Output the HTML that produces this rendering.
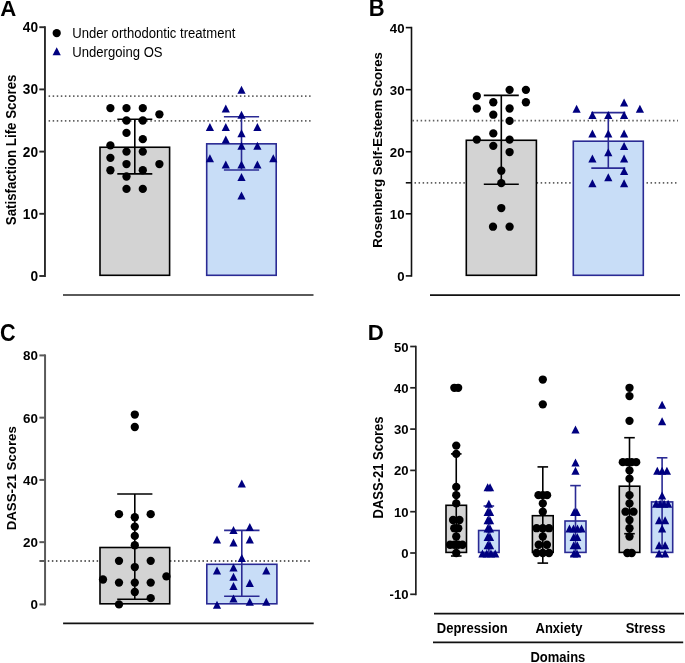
<!DOCTYPE html>
<html><head><meta charset="utf-8"><style>
html,body{margin:0;padding:0;background:#fff;}
svg{display:block;}
text{font-family:"Liberation Sans", sans-serif;fill:#000;}
body{-webkit-font-smoothing:antialiased;}
</style></head><body>
<svg width="685" height="663" viewBox="0 0 685 663" style="will-change:transform">
<rect width="685" height="663" fill="#fff"/>
<text transform="translate(0.30,15.90) scale(1,1.0)" font-size="22.2" font-weight="bold" text-anchor="start" >A</text>
<line x1="44.95" y1="26.25" x2="44.95" y2="276.95" stroke="#2a2a2a" stroke-width="1.9" />
<line x1="39.30" y1="276.00" x2="44.95" y2="276.00" stroke="#2a2a2a" stroke-width="1.9" />
<text transform="translate(38.00,281.00) scale(1,1.05)" font-size="13.7" font-weight="bold" text-anchor="end" >0</text>
<line x1="39.30" y1="213.80" x2="44.95" y2="213.80" stroke="#2a2a2a" stroke-width="1.9" />
<text transform="translate(38.00,218.80) scale(1,1.05)" font-size="13.7" font-weight="bold" text-anchor="end" >10</text>
<line x1="39.30" y1="151.60" x2="44.95" y2="151.60" stroke="#2a2a2a" stroke-width="1.9" />
<text transform="translate(38.00,156.60) scale(1,1.05)" font-size="13.7" font-weight="bold" text-anchor="end" >20</text>
<line x1="39.30" y1="89.40" x2="44.95" y2="89.40" stroke="#2a2a2a" stroke-width="1.9" />
<text transform="translate(38.00,94.40) scale(1,1.05)" font-size="13.7" font-weight="bold" text-anchor="end" >30</text>
<line x1="39.30" y1="27.20" x2="44.95" y2="27.20" stroke="#2a2a2a" stroke-width="1.9" />
<text transform="translate(38.00,32.20) scale(1,1.05)" font-size="13.7" font-weight="bold" text-anchor="end" >40</text>
<text transform="translate(16.00,149.85) rotate(-90) scale(1,1.1)" x="0" y="0" font-size="13.3" font-weight="bold" text-anchor="middle">Satisfaction Life Scores</text>
<circle cx="56.70" cy="33.10" r="4.15" fill="#000"/>
<text transform="translate(72.30,38.30) scale(1,1.1)" font-size="13.1" font-weight="normal" text-anchor="start" >Under orthodontic treatment</text>
<path d="M56.70 47.30L60.80 55.30L52.60 55.30Z" fill="#000080"/>
<text transform="translate(72.30,57.00) scale(1,1.1)" font-size="13.1" font-weight="normal" text-anchor="start" >Undergoing OS</text>
<line x1="48.60" y1="96.07" x2="311.00" y2="96.07" stroke="#000" stroke-width="1.8" stroke-dasharray="1.5 2.57" opacity="0.62"/>
<line x1="48.60" y1="120.95" x2="311.00" y2="120.95" stroke="#000" stroke-width="1.8" stroke-dasharray="1.5 2.57" opacity="0.62"/>
<rect x="100.00" y="147.25" width="69.60" height="128.05" fill="#d3d3d3" stroke="#000" stroke-width="1.6"/>
<rect x="206.70" y="143.83" width="69.50" height="131.47" fill="#c8ddf7" stroke="#2a2a94" stroke-width="1.6"/>
<line x1="63.00" y1="295.00" x2="313.50" y2="295.00" stroke="#5a5a5a" stroke-width="1.8" />
<line x1="134.80" y1="119.20" x2="134.80" y2="173.90" stroke="#000" stroke-width="1.6" />
<line x1="117.30" y1="119.20" x2="152.30" y2="119.20" stroke="#000" stroke-width="1.6" />
<line x1="117.30" y1="173.90" x2="152.30" y2="173.90" stroke="#000" stroke-width="1.6" />
<circle cx="110.40" cy="108.06" r="4.15" fill="#000"/>
<circle cx="126.50" cy="108.06" r="4.15" fill="#000"/>
<circle cx="142.80" cy="108.06" r="4.15" fill="#000"/>
<circle cx="159.40" cy="114.28" r="4.15" fill="#000"/>
<circle cx="126.50" cy="120.50" r="4.15" fill="#000"/>
<circle cx="142.80" cy="120.50" r="4.15" fill="#000"/>
<circle cx="126.50" cy="132.94" r="4.15" fill="#000"/>
<circle cx="142.80" cy="139.16" r="4.15" fill="#000"/>
<circle cx="110.40" cy="145.38" r="4.15" fill="#000"/>
<circle cx="126.50" cy="151.60" r="4.15" fill="#000"/>
<circle cx="142.80" cy="151.60" r="4.15" fill="#000"/>
<circle cx="110.40" cy="157.82" r="4.15" fill="#000"/>
<circle cx="126.50" cy="164.04" r="4.15" fill="#000"/>
<circle cx="159.40" cy="164.04" r="4.15" fill="#000"/>
<circle cx="110.40" cy="170.26" r="4.15" fill="#000"/>
<circle cx="142.80" cy="170.26" r="4.15" fill="#000"/>
<circle cx="126.50" cy="176.48" r="4.15" fill="#000"/>
<circle cx="126.50" cy="188.92" r="4.15" fill="#000"/>
<circle cx="142.80" cy="188.92" r="4.15" fill="#000"/>
<line x1="241.50" y1="116.80" x2="241.50" y2="170.00" stroke="#2a2a94" stroke-width="1.6" />
<line x1="223.90" y1="116.80" x2="259.10" y2="116.80" stroke="#2a2a94" stroke-width="1.6" />
<line x1="223.90" y1="170.00" x2="259.10" y2="170.00" stroke="#2a2a94" stroke-width="1.6" />
<path d="M241.50 85.80L245.60 93.80L237.40 93.80Z" fill="#000080"/>
<path d="M225.80 104.46L229.90 112.46L221.70 112.46Z" fill="#000080"/>
<path d="M241.50 110.68L245.60 118.68L237.40 118.68Z" fill="#000080"/>
<path d="M209.90 123.12L214.00 131.12L205.80 131.12Z" fill="#000080"/>
<path d="M225.80 123.12L229.90 131.12L221.70 131.12Z" fill="#000080"/>
<path d="M257.40 123.12L261.50 131.12L253.30 131.12Z" fill="#000080"/>
<path d="M241.50 129.34L245.60 137.34L237.40 137.34Z" fill="#000080"/>
<path d="M225.80 135.56L229.90 143.56L221.70 143.56Z" fill="#000080"/>
<path d="M241.50 141.78L245.60 149.78L237.40 149.78Z" fill="#000080"/>
<path d="M257.40 141.78L261.50 149.78L253.30 149.78Z" fill="#000080"/>
<path d="M209.90 154.22L214.00 162.22L205.80 162.22Z" fill="#000080"/>
<path d="M273.30 154.22L277.40 162.22L269.20 162.22Z" fill="#000080"/>
<path d="M225.80 160.44L229.90 168.44L221.70 168.44Z" fill="#000080"/>
<path d="M241.50 160.44L245.60 168.44L237.40 168.44Z" fill="#000080"/>
<path d="M257.40 160.44L261.50 168.44L253.30 168.44Z" fill="#000080"/>
<path d="M241.50 172.88L245.60 180.88L237.40 180.88Z" fill="#000080"/>
<path d="M241.50 191.54L245.60 199.54L237.40 199.54Z" fill="#000080"/>
<text transform="translate(368.80,15.90) scale(1,1.05)" font-size="22.0" font-weight="bold" text-anchor="start" >B</text>
<line x1="411.50" y1="26.80" x2="411.50" y2="276.70" stroke="#111" stroke-width="1.6" />
<line x1="405.80" y1="275.90" x2="411.50" y2="275.90" stroke="#111" stroke-width="1.6" />
<text transform="translate(404.50,281.00) scale(1,1.0)" font-size="13.2" font-weight="bold" text-anchor="end" >0</text>
<line x1="405.80" y1="213.82" x2="411.50" y2="213.82" stroke="#111" stroke-width="1.6" />
<text transform="translate(404.50,218.92) scale(1,1.0)" font-size="13.2" font-weight="bold" text-anchor="end" >10</text>
<line x1="405.80" y1="151.75" x2="411.50" y2="151.75" stroke="#111" stroke-width="1.6" />
<text transform="translate(404.50,156.85) scale(1,1.0)" font-size="13.2" font-weight="bold" text-anchor="end" >20</text>
<line x1="405.80" y1="89.67" x2="411.50" y2="89.67" stroke="#111" stroke-width="1.6" />
<text transform="translate(404.50,94.77) scale(1,1.0)" font-size="13.2" font-weight="bold" text-anchor="end" >30</text>
<line x1="405.80" y1="27.60" x2="411.50" y2="27.60" stroke="#111" stroke-width="1.6" />
<text transform="translate(404.50,32.70) scale(1,1.0)" font-size="13.2" font-weight="bold" text-anchor="end" >40</text>
<line x1="405.80" y1="182.79" x2="411.50" y2="182.79" stroke="#111" stroke-width="1.6" />
<text transform="translate(382.40,150.00) rotate(-90) scale(1,1.0)" x="0" y="0" font-size="13.2" font-weight="bold" text-anchor="middle">Rosenberg Self-Esteem Scores</text>
<line x1="412.50" y1="120.71" x2="678.00" y2="120.71" stroke="#000" stroke-width="1.8" stroke-dasharray="1.5 2.57" opacity="0.62"/>
<line x1="414.50" y1="182.79" x2="678.00" y2="182.79" stroke="#000" stroke-width="1.8" stroke-dasharray="1.5 2.57" opacity="0.62"/>
<rect x="466.30" y="140.27" width="70.10" height="135.03" fill="#d3d3d3" stroke="#000" stroke-width="1.6"/>
<rect x="573.30" y="141.20" width="70.00" height="134.10" fill="#c8ddf7" stroke="#2a2a94" stroke-width="1.6"/>
<line x1="430.00" y1="295.10" x2="680.00" y2="295.10" stroke="#111" stroke-width="1.8" />
<line x1="501.30" y1="95.40" x2="501.30" y2="184.30" stroke="#000" stroke-width="1.6" />
<line x1="483.80" y1="95.40" x2="518.80" y2="95.40" stroke="#000" stroke-width="1.6" />
<line x1="483.80" y1="184.30" x2="518.80" y2="184.30" stroke="#000" stroke-width="1.6" />
<circle cx="509.60" cy="89.82" r="4.15" fill="#000"/>
<circle cx="525.90" cy="89.82" r="4.15" fill="#000"/>
<circle cx="476.80" cy="96.04" r="4.15" fill="#000"/>
<circle cx="493.30" cy="102.26" r="4.15" fill="#000"/>
<circle cx="525.90" cy="102.26" r="4.15" fill="#000"/>
<circle cx="476.80" cy="108.49" r="4.15" fill="#000"/>
<circle cx="509.60" cy="108.49" r="4.15" fill="#000"/>
<circle cx="493.30" cy="114.71" r="4.15" fill="#000"/>
<circle cx="509.60" cy="120.93" r="4.15" fill="#000"/>
<circle cx="493.30" cy="133.38" r="4.15" fill="#000"/>
<circle cx="476.80" cy="139.60" r="4.15" fill="#000"/>
<circle cx="509.60" cy="139.60" r="4.15" fill="#000"/>
<circle cx="493.30" cy="145.82" r="4.15" fill="#000"/>
<circle cx="509.60" cy="152.05" r="4.15" fill="#000"/>
<circle cx="501.30" cy="170.71" r="4.15" fill="#000"/>
<circle cx="501.30" cy="183.16" r="4.15" fill="#000"/>
<circle cx="501.30" cy="208.05" r="4.15" fill="#000"/>
<circle cx="493.00" cy="226.72" r="4.15" fill="#000"/>
<circle cx="509.60" cy="226.72" r="4.15" fill="#000"/>
<line x1="608.30" y1="112.60" x2="608.30" y2="168.10" stroke="#2a2a94" stroke-width="1.6" />
<line x1="591.30" y1="112.60" x2="625.30" y2="112.60" stroke="#2a2a94" stroke-width="1.6" />
<line x1="591.30" y1="168.10" x2="625.30" y2="168.10" stroke="#2a2a94" stroke-width="1.6" />
<path d="M624.10 98.46L628.20 106.46L620.00 106.46Z" fill="#000080"/>
<path d="M576.60 104.69L580.70 112.69L572.50 112.69Z" fill="#000080"/>
<path d="M639.90 104.69L644.00 112.69L635.80 112.69Z" fill="#000080"/>
<path d="M592.40 110.91L596.50 118.91L588.30 118.91Z" fill="#000080"/>
<path d="M608.30 110.91L612.40 118.91L604.20 118.91Z" fill="#000080"/>
<path d="M624.10 110.91L628.20 118.91L620.00 118.91Z" fill="#000080"/>
<path d="M592.40 129.58L596.50 137.58L588.30 137.58Z" fill="#000080"/>
<path d="M608.30 129.58L612.40 137.58L604.20 137.58Z" fill="#000080"/>
<path d="M624.10 129.58L628.20 137.58L620.00 137.58Z" fill="#000080"/>
<path d="M624.10 142.02L628.20 150.02L620.00 150.02Z" fill="#000080"/>
<path d="M608.30 148.25L612.40 156.25L604.20 156.25Z" fill="#000080"/>
<path d="M592.40 154.47L596.50 162.47L588.30 162.47Z" fill="#000080"/>
<path d="M624.10 154.47L628.20 162.47L620.00 162.47Z" fill="#000080"/>
<path d="M624.10 166.91L628.20 174.91L620.00 174.91Z" fill="#000080"/>
<path d="M608.30 173.14L612.40 181.14L604.20 181.14Z" fill="#000080"/>
<path d="M592.40 179.36L596.50 187.36L588.30 187.36Z" fill="#000080"/>
<path d="M624.10 179.36L628.20 187.36L620.00 187.36Z" fill="#000080"/>
<text transform="translate(0.00,340.70) scale(1,1.09)" font-size="21.6" font-weight="bold" text-anchor="start" >C</text>
<line x1="45.05" y1="354.40" x2="45.05" y2="605.40" stroke="#5a5a5a" stroke-width="2.0" />
<line x1="39.40" y1="604.40" x2="45.05" y2="604.40" stroke="#5a5a5a" stroke-width="2.0" />
<text transform="translate(38.00,609.40) scale(1,1.0)" font-size="13.4" font-weight="bold" text-anchor="end" >0</text>
<line x1="39.40" y1="542.15" x2="45.05" y2="542.15" stroke="#5a5a5a" stroke-width="2.0" />
<text transform="translate(38.00,547.15) scale(1,1.0)" font-size="13.4" font-weight="bold" text-anchor="end" >20</text>
<line x1="39.40" y1="479.90" x2="45.05" y2="479.90" stroke="#5a5a5a" stroke-width="2.0" />
<text transform="translate(38.00,484.90) scale(1,1.0)" font-size="13.4" font-weight="bold" text-anchor="end" >40</text>
<line x1="39.40" y1="417.65" x2="45.05" y2="417.65" stroke="#5a5a5a" stroke-width="2.0" />
<text transform="translate(38.00,422.65) scale(1,1.0)" font-size="13.4" font-weight="bold" text-anchor="end" >60</text>
<line x1="39.40" y1="355.40" x2="45.05" y2="355.40" stroke="#5a5a5a" stroke-width="2.0" />
<text transform="translate(38.00,360.40) scale(1,1.0)" font-size="13.4" font-weight="bold" text-anchor="end" >80</text>
<line x1="39.40" y1="561.00" x2="45.00" y2="561.00" stroke="#5a5a5a" stroke-width="2.0" />
<text transform="translate(15.50,478.25) rotate(-90) scale(1,1.03)" x="0" y="0" font-size="13.3" font-weight="bold" text-anchor="middle">DASS-21 Scores</text>
<line x1="47.80" y1="561.00" x2="311.00" y2="561.00" stroke="#000" stroke-width="1.8" stroke-dasharray="1.5 2.57" opacity="0.62"/>
<rect x="100.00" y="547.50" width="69.70" height="56.30" fill="#d3d3d3" stroke="#000" stroke-width="1.6"/>
<rect x="206.80" y="564.30" width="70.10" height="39.50" fill="#c8ddf7" stroke="#2a2a94" stroke-width="1.6"/>
<line x1="63.10" y1="623.40" x2="313.70" y2="623.40" stroke="#111" stroke-width="1.8" />
<line x1="134.80" y1="494.00" x2="134.80" y2="599.30" stroke="#000" stroke-width="1.6" />
<line x1="117.20" y1="494.00" x2="152.40" y2="494.00" stroke="#000" stroke-width="1.6" />
<line x1="117.20" y1="599.30" x2="152.40" y2="599.30" stroke="#000" stroke-width="1.6" />
<circle cx="134.80" cy="414.54" r="4.15" fill="#000"/>
<circle cx="134.80" cy="426.99" r="4.15" fill="#000"/>
<circle cx="119.00" cy="514.14" r="4.15" fill="#000"/>
<circle cx="150.70" cy="514.14" r="4.15" fill="#000"/>
<circle cx="134.80" cy="517.25" r="4.15" fill="#000"/>
<circle cx="134.80" cy="526.59" r="4.15" fill="#000"/>
<circle cx="134.80" cy="535.92" r="4.15" fill="#000"/>
<circle cx="134.80" cy="545.26" r="4.15" fill="#000"/>
<circle cx="119.00" cy="560.82" r="4.15" fill="#000"/>
<circle cx="150.70" cy="560.82" r="4.15" fill="#000"/>
<circle cx="134.80" cy="567.05" r="4.15" fill="#000"/>
<circle cx="166.40" cy="576.39" r="4.15" fill="#000"/>
<circle cx="103.00" cy="579.50" r="4.15" fill="#000"/>
<circle cx="119.00" cy="582.61" r="4.15" fill="#000"/>
<circle cx="134.80" cy="582.61" r="4.15" fill="#000"/>
<circle cx="150.70" cy="582.61" r="4.15" fill="#000"/>
<circle cx="134.80" cy="591.95" r="4.15" fill="#000"/>
<circle cx="150.70" cy="598.17" r="4.15" fill="#000"/>
<circle cx="119.00" cy="604.40" r="4.15" fill="#000"/>
<line x1="241.80" y1="530.40" x2="241.80" y2="596.20" stroke="#2a2a94" stroke-width="1.6" />
<line x1="224.10" y1="530.40" x2="259.50" y2="530.40" stroke="#2a2a94" stroke-width="1.6" />
<line x1="224.10" y1="596.20" x2="259.50" y2="596.20" stroke="#2a2a94" stroke-width="1.6" />
<path d="M241.80 479.41L245.90 487.41L237.70 487.41Z" fill="#000080"/>
<path d="M249.80 522.99L253.90 530.99L245.70 530.99Z" fill="#000080"/>
<path d="M233.50 526.10L237.60 534.10L229.40 534.10Z" fill="#000080"/>
<path d="M217.00 535.44L221.10 543.44L212.90 543.44Z" fill="#000080"/>
<path d="M249.80 535.44L253.90 543.44L245.70 543.44Z" fill="#000080"/>
<path d="M233.50 538.55L237.60 546.55L229.40 546.55Z" fill="#000080"/>
<path d="M241.80 554.11L245.90 562.11L237.70 562.11Z" fill="#000080"/>
<path d="M233.50 563.45L237.60 571.45L229.40 571.45Z" fill="#000080"/>
<path d="M217.00 566.56L221.10 574.56L212.90 574.56Z" fill="#000080"/>
<path d="M266.30 566.56L270.40 574.56L262.20 574.56Z" fill="#000080"/>
<path d="M233.50 572.79L237.60 580.79L229.40 580.79Z" fill="#000080"/>
<path d="M233.50 582.12L237.60 590.12L229.40 590.12Z" fill="#000080"/>
<path d="M249.80 579.01L253.90 587.01L245.70 587.01Z" fill="#000080"/>
<path d="M233.50 594.57L237.60 602.57L229.40 602.57Z" fill="#000080"/>
<path d="M249.80 597.69L253.90 605.69L245.70 605.69Z" fill="#000080"/>
<path d="M266.30 597.69L270.40 605.69L262.20 605.69Z" fill="#000080"/>
<path d="M217.00 600.80L221.10 608.80L212.90 608.80Z" fill="#000080"/>
<text transform="translate(367.80,340.00) scale(1,1.0)" font-size="22.2" font-weight="bold" text-anchor="start" >D</text>
<line x1="415.85" y1="345.65" x2="415.85" y2="595.15" stroke="#222" stroke-width="1.7" />
<line x1="410.20" y1="594.30" x2="415.85" y2="594.30" stroke="#222" stroke-width="1.7" />
<text transform="translate(408.50,599.30) scale(1,1.0)" font-size="13.1" font-weight="bold" text-anchor="end" >-10</text>
<line x1="410.20" y1="553.00" x2="415.85" y2="553.00" stroke="#222" stroke-width="1.7" />
<text transform="translate(408.50,558.00) scale(1,1.0)" font-size="13.1" font-weight="bold" text-anchor="end" >0</text>
<line x1="410.20" y1="511.70" x2="415.85" y2="511.70" stroke="#222" stroke-width="1.7" />
<text transform="translate(408.50,516.70) scale(1,1.0)" font-size="13.1" font-weight="bold" text-anchor="end" >10</text>
<line x1="410.20" y1="470.40" x2="415.85" y2="470.40" stroke="#222" stroke-width="1.7" />
<text transform="translate(408.50,475.40) scale(1,1.0)" font-size="13.1" font-weight="bold" text-anchor="end" >20</text>
<line x1="410.20" y1="429.10" x2="415.85" y2="429.10" stroke="#222" stroke-width="1.7" />
<text transform="translate(408.50,434.10) scale(1,1.0)" font-size="13.1" font-weight="bold" text-anchor="end" >30</text>
<line x1="410.20" y1="387.80" x2="415.85" y2="387.80" stroke="#222" stroke-width="1.7" />
<text transform="translate(408.50,392.80) scale(1,1.0)" font-size="13.1" font-weight="bold" text-anchor="end" >40</text>
<line x1="410.20" y1="346.50" x2="415.85" y2="346.50" stroke="#222" stroke-width="1.7" />
<text transform="translate(408.50,351.50) scale(1,1.0)" font-size="13.1" font-weight="bold" text-anchor="end" >50</text>
<text transform="translate(382.50,467.50) rotate(-90) scale(1,1.1)" x="0" y="0" font-size="13" font-weight="bold" text-anchor="middle">DASS-21 Scores</text>
<line x1="434.00" y1="613.60" x2="684.00" y2="613.60" stroke="#111" stroke-width="1.6" />
<line x1="433.00" y1="642.40" x2="683.20" y2="642.40" stroke="#111" stroke-width="1.6" />
<text transform="translate(472.20,633.10) scale(1,1.1)" font-size="13" font-weight="bold" text-anchor="middle" >Depression</text>
<text transform="translate(559.00,633.10) scale(1,1.1)" font-size="13" font-weight="bold" text-anchor="middle" >Anxiety</text>
<text transform="translate(645.50,633.10) scale(1,1.1)" font-size="13" font-weight="bold" text-anchor="middle" >Stress</text>
<text transform="translate(557.90,661.60) scale(1,1.1)" font-size="13" font-weight="bold" text-anchor="middle" >Domains</text>
<rect x="446.00" y="505.30" width="20.50" height="47.10" fill="#d3d3d3" stroke="#000" stroke-width="1.6"/>
<rect x="478.60" y="530.50" width="20.50" height="21.90" fill="#c8ddf7" stroke="#2a2a94" stroke-width="1.6"/>
<line x1="456.25" y1="453.90" x2="456.25" y2="556.00" stroke="#000" stroke-width="1.6" />
<line x1="450.95" y1="453.90" x2="461.55" y2="453.90" stroke="#000" stroke-width="1.6" />
<line x1="450.95" y1="556.00" x2="461.55" y2="556.00" stroke="#000" stroke-width="1.6" />
<circle cx="454.35" cy="387.80" r="4.15" fill="#000"/>
<circle cx="458.15" cy="387.80" r="4.15" fill="#000"/>
<circle cx="456.25" cy="445.62" r="4.15" fill="#000"/>
<circle cx="456.25" cy="453.88" r="4.15" fill="#000"/>
<circle cx="456.25" cy="486.92" r="4.15" fill="#000"/>
<circle cx="456.25" cy="495.18" r="4.15" fill="#000"/>
<circle cx="456.25" cy="503.44" r="4.15" fill="#000"/>
<circle cx="453.05" cy="519.96" r="4.15" fill="#000"/>
<circle cx="459.45" cy="519.96" r="4.15" fill="#000"/>
<circle cx="454.25" cy="528.22" r="4.15" fill="#000"/>
<circle cx="458.25" cy="528.22" r="4.15" fill="#000"/>
<circle cx="456.25" cy="536.48" r="4.15" fill="#000"/>
<circle cx="450.05" cy="544.74" r="4.15" fill="#000"/>
<circle cx="454.25" cy="544.74" r="4.15" fill="#000"/>
<circle cx="458.25" cy="544.74" r="4.15" fill="#000"/>
<circle cx="462.45" cy="544.74" r="4.15" fill="#000"/>
<circle cx="456.25" cy="553.00" r="4.15" fill="#000"/>
<line x1="488.85" y1="506.00" x2="488.85" y2="553.50" stroke="#2a2a94" stroke-width="1.6" />
<line x1="483.55" y1="506.00" x2="494.15" y2="506.00" stroke="#2a2a94" stroke-width="1.6" />
<line x1="483.55" y1="553.50" x2="494.15" y2="553.50" stroke="#2a2a94" stroke-width="1.6" />
<path d="M487.65 483.32L491.75 491.32L483.55 491.32Z" fill="#000080"/>
<path d="M490.05 483.32L494.15 491.32L485.95 491.32Z" fill="#000080"/>
<path d="M488.85 499.84L492.95 507.84L484.75 507.84Z" fill="#000080"/>
<path d="M487.65 508.10L491.75 516.10L483.55 516.10Z" fill="#000080"/>
<path d="M490.05 508.10L494.15 516.10L485.95 516.10Z" fill="#000080"/>
<path d="M487.65 516.36L491.75 524.36L483.55 524.36Z" fill="#000080"/>
<path d="M490.05 516.36L494.15 524.36L485.95 524.36Z" fill="#000080"/>
<path d="M487.65 524.62L491.75 532.62L483.55 532.62Z" fill="#000080"/>
<path d="M490.05 524.62L494.15 532.62L485.95 532.62Z" fill="#000080"/>
<path d="M487.65 532.88L491.75 540.88L483.55 540.88Z" fill="#000080"/>
<path d="M490.05 532.88L494.15 540.88L485.95 540.88Z" fill="#000080"/>
<path d="M487.65 541.14L491.75 549.14L483.55 549.14Z" fill="#000080"/>
<path d="M490.05 541.14L494.15 549.14L485.95 549.14Z" fill="#000080"/>
<path d="M482.45 549.40L486.55 557.40L478.35 557.40Z" fill="#000080"/>
<path d="M486.75 549.40L490.85 557.40L482.65 557.40Z" fill="#000080"/>
<path d="M490.95 549.40L495.05 557.40L486.85 557.40Z" fill="#000080"/>
<path d="M495.25 549.40L499.35 557.40L491.15 557.40Z" fill="#000080"/>
<rect x="532.40" y="515.70" width="20.80" height="36.70" fill="#d3d3d3" stroke="#000" stroke-width="1.6"/>
<rect x="565.00" y="521.00" width="21.00" height="31.40" fill="#c8ddf7" stroke="#2a2a94" stroke-width="1.6"/>
<line x1="542.80" y1="466.90" x2="542.80" y2="563.10" stroke="#000" stroke-width="1.6" />
<line x1="537.50" y1="466.90" x2="548.10" y2="466.90" stroke="#000" stroke-width="1.6" />
<line x1="537.50" y1="563.10" x2="548.10" y2="563.10" stroke="#000" stroke-width="1.6" />
<circle cx="542.80" cy="379.54" r="4.15" fill="#000"/>
<circle cx="542.80" cy="404.32" r="4.15" fill="#000"/>
<circle cx="538.50" cy="495.18" r="4.15" fill="#000"/>
<circle cx="542.80" cy="495.18" r="4.15" fill="#000"/>
<circle cx="547.10" cy="495.18" r="4.15" fill="#000"/>
<circle cx="542.80" cy="503.44" r="4.15" fill="#000"/>
<circle cx="542.80" cy="511.70" r="4.15" fill="#000"/>
<circle cx="536.60" cy="528.22" r="4.15" fill="#000"/>
<circle cx="542.80" cy="528.22" r="4.15" fill="#000"/>
<circle cx="549.00" cy="528.22" r="4.15" fill="#000"/>
<circle cx="542.80" cy="536.48" r="4.15" fill="#000"/>
<circle cx="538.70" cy="544.74" r="4.15" fill="#000"/>
<circle cx="546.90" cy="544.74" r="4.15" fill="#000"/>
<circle cx="536.60" cy="553.00" r="4.15" fill="#000"/>
<circle cx="542.80" cy="553.00" r="4.15" fill="#000"/>
<circle cx="549.00" cy="553.00" r="4.15" fill="#000"/>
<line x1="575.50" y1="485.60" x2="575.50" y2="556.00" stroke="#2a2a94" stroke-width="1.6" />
<line x1="570.20" y1="485.60" x2="580.80" y2="485.60" stroke="#2a2a94" stroke-width="1.6" />
<line x1="570.20" y1="556.00" x2="580.80" y2="556.00" stroke="#2a2a94" stroke-width="1.6" />
<path d="M575.50 425.50L579.60 433.50L571.40 433.50Z" fill="#000080"/>
<path d="M575.50 458.54L579.60 466.54L571.40 466.54Z" fill="#000080"/>
<path d="M575.50 466.80L579.60 474.80L571.40 474.80Z" fill="#000080"/>
<path d="M574.20 508.10L578.30 516.10L570.10 516.10Z" fill="#000080"/>
<path d="M576.80 508.10L580.90 516.10L572.70 516.10Z" fill="#000080"/>
<path d="M569.50 524.62L573.60 532.62L565.40 532.62Z" fill="#000080"/>
<path d="M573.50 524.62L577.60 532.62L569.40 532.62Z" fill="#000080"/>
<path d="M577.50 524.62L581.60 532.62L573.40 532.62Z" fill="#000080"/>
<path d="M581.50 524.62L585.60 532.62L577.40 532.62Z" fill="#000080"/>
<path d="M573.70 532.88L577.80 540.88L569.60 540.88Z" fill="#000080"/>
<path d="M577.30 532.88L581.40 540.88L573.20 540.88Z" fill="#000080"/>
<path d="M573.70 541.14L577.80 549.14L569.60 549.14Z" fill="#000080"/>
<path d="M577.30 541.14L581.40 549.14L573.20 549.14Z" fill="#000080"/>
<path d="M574.00 549.40L578.10 557.40L569.90 557.40Z" fill="#000080"/>
<path d="M577.00 549.40L581.10 557.40L572.90 557.40Z" fill="#000080"/>
<rect x="619.30" y="486.20" width="20.50" height="66.20" fill="#d3d3d3" stroke="#000" stroke-width="1.6"/>
<rect x="651.50" y="501.90" width="21.20" height="50.50" fill="#c8ddf7" stroke="#2a2a94" stroke-width="1.6"/>
<line x1="629.50" y1="437.70" x2="629.50" y2="533.70" stroke="#000" stroke-width="1.6" />
<line x1="624.20" y1="437.70" x2="634.80" y2="437.70" stroke="#000" stroke-width="1.6" />
<line x1="624.20" y1="533.70" x2="634.80" y2="533.70" stroke="#000" stroke-width="1.6" />
<circle cx="629.50" cy="387.80" r="4.15" fill="#000"/>
<circle cx="629.50" cy="396.06" r="4.15" fill="#000"/>
<circle cx="629.50" cy="420.84" r="4.15" fill="#000"/>
<circle cx="622.80" cy="462.14" r="4.15" fill="#000"/>
<circle cx="627.30" cy="462.14" r="4.15" fill="#000"/>
<circle cx="631.70" cy="462.14" r="4.15" fill="#000"/>
<circle cx="636.20" cy="462.14" r="4.15" fill="#000"/>
<circle cx="629.50" cy="470.40" r="4.15" fill="#000"/>
<circle cx="629.50" cy="478.66" r="4.15" fill="#000"/>
<circle cx="629.50" cy="495.18" r="4.15" fill="#000"/>
<circle cx="629.50" cy="503.44" r="4.15" fill="#000"/>
<circle cx="625.50" cy="511.70" r="4.15" fill="#000"/>
<circle cx="633.50" cy="511.70" r="4.15" fill="#000"/>
<circle cx="629.50" cy="519.96" r="4.15" fill="#000"/>
<circle cx="629.50" cy="528.22" r="4.15" fill="#000"/>
<circle cx="629.50" cy="536.48" r="4.15" fill="#000"/>
<circle cx="627.30" cy="553.00" r="4.15" fill="#000"/>
<circle cx="631.70" cy="553.00" r="4.15" fill="#000"/>
<line x1="662.10" y1="457.80" x2="662.10" y2="546.00" stroke="#2a2a94" stroke-width="1.6" />
<line x1="656.80" y1="457.80" x2="667.40" y2="457.80" stroke="#2a2a94" stroke-width="1.6" />
<line x1="656.80" y1="546.00" x2="667.40" y2="546.00" stroke="#2a2a94" stroke-width="1.6" />
<path d="M662.10 400.72L666.20 408.72L658.00 408.72Z" fill="#000080"/>
<path d="M662.10 417.24L666.20 425.24L658.00 425.24Z" fill="#000080"/>
<path d="M657.30 466.80L661.40 474.80L653.20 474.80Z" fill="#000080"/>
<path d="M662.10 466.80L666.20 474.80L658.00 474.80Z" fill="#000080"/>
<path d="M666.90 466.80L671.00 474.80L662.80 474.80Z" fill="#000080"/>
<path d="M662.10 491.58L666.20 499.58L658.00 499.58Z" fill="#000080"/>
<path d="M656.10 499.84L660.20 507.84L652.00 507.84Z" fill="#000080"/>
<path d="M660.10 499.84L664.20 507.84L656.00 507.84Z" fill="#000080"/>
<path d="M664.10 499.84L668.20 507.84L660.00 507.84Z" fill="#000080"/>
<path d="M668.10 499.84L672.20 507.84L664.00 507.84Z" fill="#000080"/>
<path d="M659.10 516.36L663.20 524.36L655.00 524.36Z" fill="#000080"/>
<path d="M665.10 516.36L669.20 524.36L661.00 524.36Z" fill="#000080"/>
<path d="M662.10 524.62L666.20 532.62L658.00 532.62Z" fill="#000080"/>
<path d="M659.10 541.14L663.20 549.14L655.00 549.14Z" fill="#000080"/>
<path d="M665.10 541.14L669.20 549.14L661.00 549.14Z" fill="#000080"/>
<path d="M659.10 549.40L663.20 557.40L655.00 557.40Z" fill="#000080"/>
<path d="M665.10 549.40L669.20 557.40L661.00 557.40Z" fill="#000080"/>
</svg>
</body></html>
